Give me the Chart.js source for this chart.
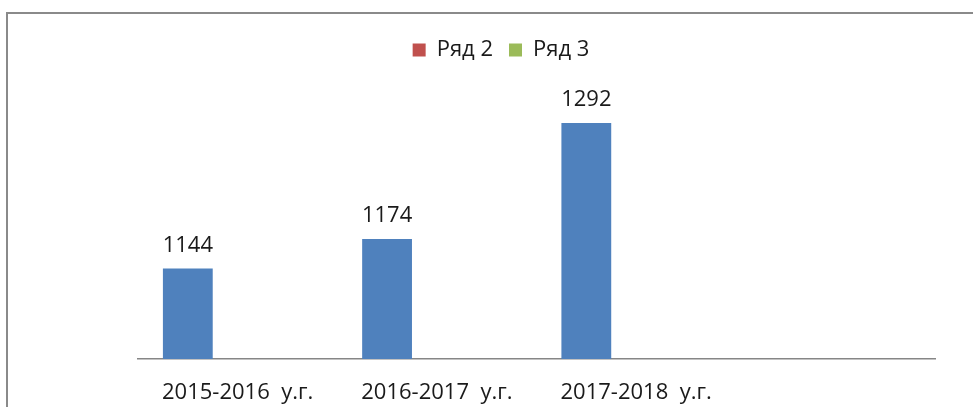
<!DOCTYPE html>
<html>
<head>
<meta charset="utf-8">
<script src="https://cdn.jsdelivr.net/npm/chart.js@4.4.1/dist/chart.umd.min.js"></script>
<style>
  html, body { margin: 0; padding: 0; background: #fff; }
  canvas { display: block; }
</style>
</head>
<body>
<canvas id="chart" width="973" height="407"></canvas>
<script>
const categories = ["2015-2016  у.г.", "2016-2017  у.г.", "2017-2018  у.г.", ""];
const series1 = [1144, 1174, 1292, null];
const series2 = [null, null, null, null];
const series3 = [null, null, null, null];
const seriesNames = ["Ряд 1", "Ряд 2", "Ряд 3"];

const FONT = "'Open Sans', sans-serif";

// frame + value labels
const extras = {
    id: "extras",
    beforeDraw(chart) {
        const ctx = chart.ctx;
        ctx.save();
        ctx.strokeStyle = "#8a8a8a";
        ctx.lineWidth = 2;
        ctx.beginPath();
        ctx.moveTo(7, 407);
        ctx.lineTo(7, 13);
        ctx.lineTo(973, 13);
        ctx.stroke();
        ctx.restore();
    },
    afterDatasetsDraw(chart) {
        const ctx = chart.ctx;
        const meta = chart.getDatasetMeta(0);
        ctx.save();
        ctx.fillStyle = "#1a1a1a";
        ctx.font = "22px " + FONT;
        ctx.textAlign = "center";
        ctx.textBaseline = "alphabetic";
        meta.data.forEach((bar, i) => {
            const v = series1[i];
            if (v == null) return;
            ctx.fillText(String(v), bar.x, bar.y - 17);
        });
        ctx.restore();
    }
};

new Chart(document.getElementById("chart"), {
    type: "bar",
    data: {
        labels: categories,
        datasets: [
            { label: seriesNames[0], data: series1, backgroundColor: "#4f81bd" },
            { label: seriesNames[1], data: series2, backgroundColor: "#c0504d" },
            { label: seriesNames[2], data: series3, backgroundColor: "#9bbb59" }
        ]
    },
    options: {
        responsive: false,
        animation: false,
        layout: { padding: { left: 67, right: 38, top: 23, bottom: 0 } },
        datasets: { bar: { categoryPercentage: 0.75, barPercentage: 1 } },
        plugins: {
            legend: {
                display: true,
                position: "top",
                labels: {
                    filter: item => item.datasetIndex !== 0,
                    boxWidth: 13,
                    boxHeight: 13,
                    padding: 16,
                    color: "#1a1a1a",
                    font: { family: FONT, size: 22 }
                }
            },
            tooltip: { enabled: false }
        },
        scales: {
            x: {
                grid: { display: false, drawTicks: false },
                border: { color: "#868686", width: 1.5 },
                ticks: {
                    color: "#1a1a1a",
                    font: { family: FONT, size: 22 },
                    padding: 21,
                    maxRotation: 0,
                    autoSkip: false
                },
                afterFit(scale) { scale.height = 48; }
            },
            y: {
                display: true,
                min: 1052,
                max: 1345,
                grid: { display: false, drawTicks: false },
                border: { display: false },
                ticks: { display: false },
                afterFit(scale) { scale.width = 71; }
            }
        }
    },
    plugins: [extras]
});
</script>
</body>
</html>
